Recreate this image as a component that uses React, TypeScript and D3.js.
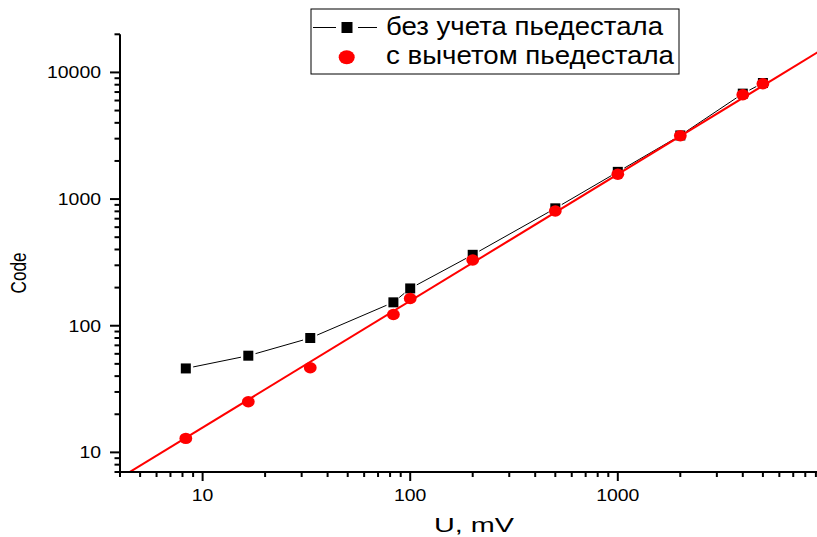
import React from "react";
import * as d3 from "d3";

const voltages = [8.3, 16.6, 33, 83, 100, 200, 500, 1000, 2000, 4000, 5000];
const codeRaw = [46, 58, 80, 153, 197, 363, 845, 1640, 3180, 6800, 8250];
const codeSub = [12.9, 25.1, 46.6, 122.5, 164, 330, 805, 1571, 3160, 6670, 8150];
const xMajorTicks = [10, 100, 1000];
const yMajorTicks = [10, 100, 1000, 10000];
const seriesNames = ["без учета пьедестала", "с вычетом пьедестала"];
const xTitle = "U, mV";
const yTitle = "Code";

const W = 817;
const H = 537;
const L = 120;
const R = 825.4;
const T = 34.3;
const B = 472;

export default function App() {
  const x = d3.scaleLog().domain([4, 10000]).range([L, R]);
  const y = d3.scaleLog().domain([7, 20000]).range([B, T]);

  const xMinor: number[] = [];
  for (let d = 1; d <= 1000; d *= 10)
    for (let k = 2; k <= 9; k++) {
      const v = k * d;
      if (v >= 4 && v <= 10000 && !xMajorTicks.includes(v)) xMinor.push(v);
    }
  const yMinor: number[] = [];
  for (let d = 1; d <= 10000; d *= 10)
    for (let k = 2; k <= 9; k++) {
      const v = k * d;
      if (v >= 7 && v <= 20000 && !yMajorTicks.includes(v)) yMinor.push(v);
    }

  // proportional fit (y = k * x) in log space of subtracted data
  const logK = d3.mean(voltages.map((v, i) => Math.log10(codeSub[i]) - Math.log10(v)))!;
  const fitX = [4, 10000];
  const fitPts = fitX.map((v) => [x(v), y(v * Math.pow(10, logK))]);

  const pts = voltages.map((v, i) => [x(v), y(codeRaw[i])]);
  const gap = 7.5;
  const segs = pts.slice(1).map((p, i) => {
    const a = pts[i];
    const dx = p[0] - a[0];
    const dy = p[1] - a[1];
    const len = Math.hypot(dx, dy);
    const ux = dx / len;
    const uy = dy / len;
    return [a[0] + ux * gap, a[1] + uy * gap, p[0] - ux * gap, p[1] - uy * gap];
  });

  const font = "'Liberation Sans', Arial, sans-serif";

  return (
    <svg
      width={W}
      height={H}
      style={{ position: "fixed", left: 0, top: 0, background: "#fff" }}
      fontFamily={font}
    >
      <defs>
        <clipPath id="plot">
          <rect x={L} y={T} width={R - L} height={B - T} />
        </clipPath>
      </defs>

      {/* black series line */}
      {segs.map((s, i) =>
        s[0] < s[2] ? (
          <line key={i} x1={s[0]} y1={s[1]} x2={s[2]} y2={s[3]} stroke="#000" strokeWidth={1} />
        ) : null
      )}
      {pts.map((p, i) => (
        <rect key={i} x={p[0] - 5} y={p[1] - 5} width={10} height={10} fill="#000" />
      ))}

      {/* red fit line */}
      <line
        clipPath="url(#plot)"
        x1={fitPts[0][0]}
        y1={fitPts[0][1]}
        x2={fitPts[1][0]}
        y2={fitPts[1][1]}
        stroke="#ff0000"
        strokeWidth={2}
      />
      {voltages.map((v, i) => (
        <ellipse key={i} cx={x(v)} cy={y(codeSub[i])} rx={6.4} ry={5.7} fill="#ff0000" />
      ))}

      {/* axes */}
      <line x1={L} y1={T} x2={L} y2={B + 1} stroke="#000" strokeWidth={2} />
      <line x1={L - 1} y1={B} x2={R} y2={B} stroke="#000" strokeWidth={2} />
      {xMajorTicks.map((v) => (
        <g key={v}>
          <line x1={x(v)} x2={x(v)} y1={B} y2={B + 9} stroke="#000" strokeWidth={2} />
          <text
            x={x(v)}
            y={501}
            fontSize={16.5}
            textAnchor="middle"
            textLength={String(v).length * 10.8}
            lengthAdjust="spacingAndGlyphs"
          >
            {v}
          </text>
        </g>
      ))}
      {xMinor.map((v) => (
        <line key={v} x1={x(v)} x2={x(v)} y1={B} y2={B + 5} stroke="#000" strokeWidth={2} />
      ))}
      {yMajorTicks.map((v) => (
        <g key={v}>
          <line x1={L} x2={L - 10} y1={y(v)} y2={y(v)} stroke="#000" strokeWidth={2} />
          <text
            x={101}
            y={y(v) + 6}
            fontSize={17}
            textAnchor="end"
            textLength={String(v).length * 10.8}
            lengthAdjust="spacingAndGlyphs"
          >
            {v}
          </text>
        </g>
      ))}
      {yMinor.map((v) => (
        <line key={v} x1={L} x2={L - 5.5} y1={y(v)} y2={y(v)} stroke="#000" strokeWidth={2} />
      ))}

      {/* axis titles */}
      <text x={434} y={532} fontSize={20} textLength={80} lengthAdjust="spacingAndGlyphs">
        {xTitle}
      </text>
      <text
        transform="translate(25.5,273) scale(1.25,1) rotate(-90)"
        fontSize={18}
        textAnchor="middle"
        textLength={41}
        lengthAdjust="spacingAndGlyphs"
      >
        {yTitle}
      </text>

      {/* legend */}
      <rect x={311} y={9} width={368} height={65} fill="#fff" stroke="#000" strokeWidth={1} />
      <line x1={313} x2={336} y1={27.5} y2={27.5} stroke="#000" strokeWidth={1} />
      <line x1={358} x2={377} y1={27.5} y2={27.5} stroke="#000" strokeWidth={1} />
      <rect x={341.5} y={22} width={11} height={11} fill="#000" />
      <text x={386} y={35} fontSize={25} textLength={277} lengthAdjust="spacingAndGlyphs">
        {seriesNames[0]}
      </text>
      <ellipse cx={346.7} cy={57.3} rx={8} ry={7} fill="#ff0000" />
      <text x={386} y={64} fontSize={25} textLength={288} lengthAdjust="spacingAndGlyphs">
        {seriesNames[1]}
      </text>
    </svg>
  );
}
